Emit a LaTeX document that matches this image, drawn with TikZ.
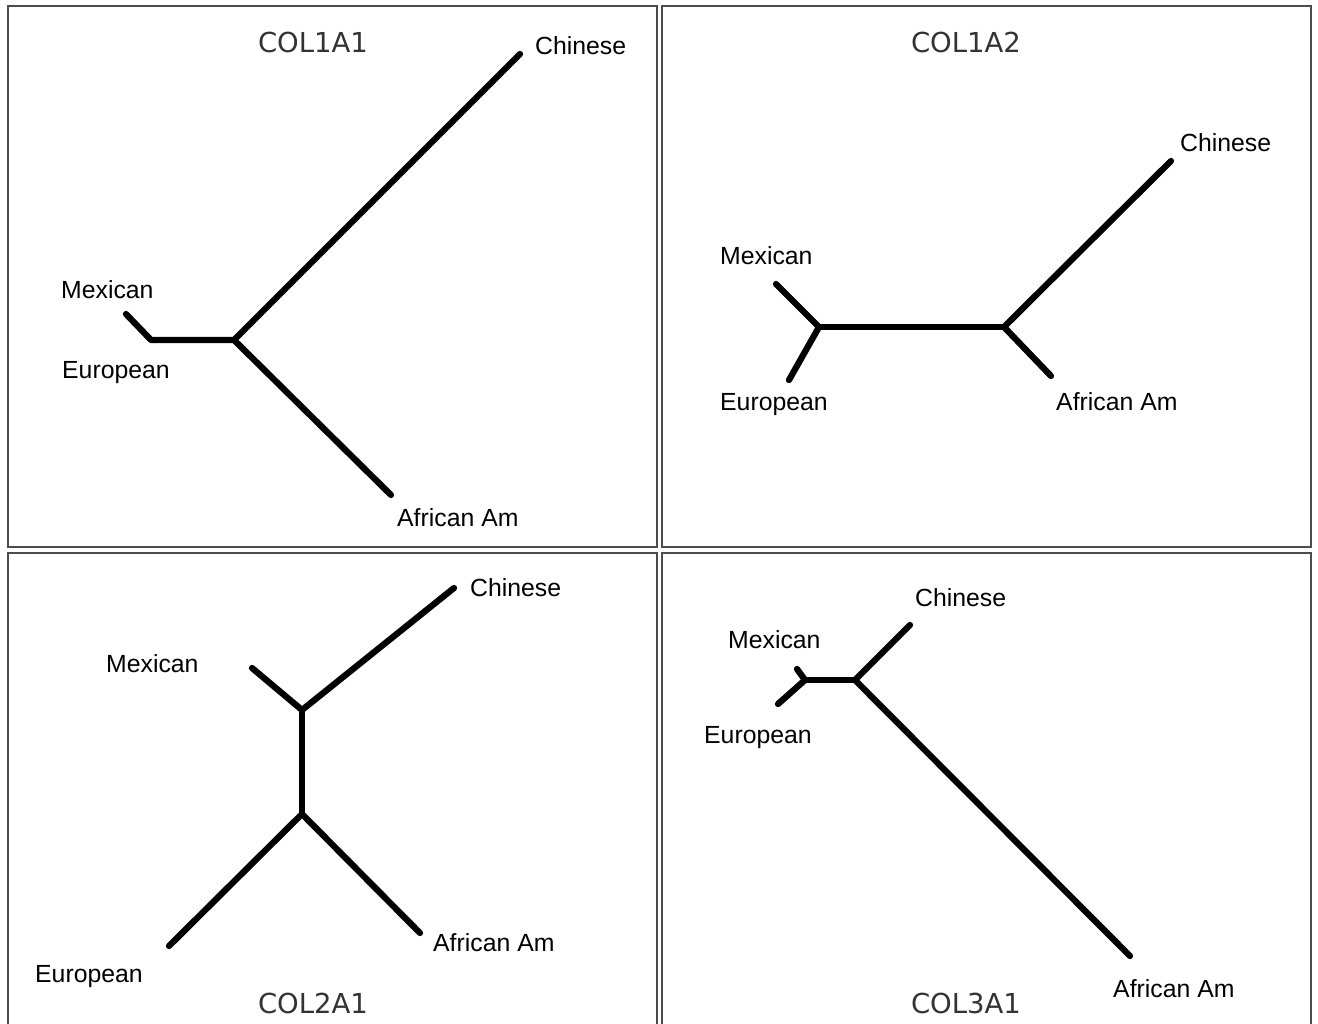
\documentclass[tikz,border=0pt]{standalone}
\usepackage{fontspec}
\usetikzlibrary{positioning}
\newfontfamily\taxonfont{Liberation Sans}
\newfontfamily\genefont{DejaVu Sans}

\begin{document}
\begin{tikzpicture}[
    x=1pt, y=-1pt,
    panel/.style={draw=black!70, line width=2pt},
    branch/.style={line width=6.3pt, line cap=round, line join=round},
    taxon/.style={anchor=base west, inner sep=0pt, font=\taxonfont\fontsize{24.8}{28}\selectfont},
    gene/.style={anchor=base, inner sep=0pt, text=black!80, font=\genefont\fontsize{27.5}{30}\selectfont}
]

% Canvas
\useasboundingbox (0,0) rectangle (1318,1024);
\clip (0,0) rectangle (1318,1024);

% Panels
\draw[panel] (8,6) rectangle (657,547);
\draw[panel] (662,6) rectangle (1311,547);
\draw[panel] (8,553) rectangle (657,1040);
\draw[panel] (662,553) rectangle (1311,1040);

% ---------- COL1A1 ----------
\node[gene] (t1) at (313,53) {COL1A1};
\coordinate (a1chi) at (520,54);
\coordinate (a1in) at (234,340);
\coordinate (a1afr) at (391,495);
\coordinate (a1me) at (151,340);
\coordinate (a1mex) at (126,314);
\draw[branch] (a1chi) -- (a1in) -- (a1afr);
\draw[branch] (a1in) -- (a1me) -- (a1mex);
\node[taxon] (l1chi) at (535,55) {Chinese};
\node[taxon] (l1mex) at (61,299) {Mexican};
\node[taxon] (l1eur) at (62,379) {European};
\node[taxon] (l1afr) at (397,526) {African Am};

% ---------- COL1A2 ----------
\node[gene] (t2) at (966,53) {COL1A2};
\coordinate (a2chi) at (1171,161);
\coordinate (a2in) at (1004,327);
\coordinate (a2afr) at (1051,376);
\coordinate (a2me) at (819,327);
\coordinate (a2mex) at (776,284);
\coordinate (a2eur) at (789,380);
\draw[branch] (a2chi) -- (a2in) -- (a2afr);
\draw[branch] (a2in) -- (a2me);
\draw[branch] (a2mex) -- (a2me) -- (a2eur);
\node[taxon] (l2chi) at (1180,152) {Chinese};
\node[taxon] (l2mex) at (720,265) {Mexican};
\node[taxon] (l2eur) at (720,410) {European};
\node[taxon] (l2afr) at (1056,410) {African Am};

% ---------- COL2A1 ----------
\node[gene] (t3) at (313,1013) {COL2A1};
\coordinate (a3chi) at (454,588);
\coordinate (a3up) at (302,710);
\coordinate (a3mex) at (252,668);
\coordinate (a3lo) at (302,814);
\coordinate (a3eur) at (169,946);
\coordinate (a3afr) at (420,933);
\draw[branch] (a3chi) -- (a3up) -- (a3mex);
\draw[branch] (a3up) -- (a3lo);
\draw[branch] (a3eur) -- (a3lo) -- (a3afr);
\node[taxon] (l3chi) at (470,596) {Chinese};
\node[taxon] (l3mex) at (106,672) {Mexican};
\node[taxon] (l3eur) at (35,982) {European};
\node[taxon] (l3afr) at (433,951) {African Am};

% ---------- COL3A1 ----------
\node[gene] (t4) at (966,1013) {COL3A1};
\coordinate (a4chi) at (910,625);
\coordinate (a4in) at (855,680);
\coordinate (a4afr) at (1130,956);
\coordinate (a4me) at (805,680);
\coordinate (a4mex) at (797,669);
\coordinate (a4eur) at (778,704);
\draw[branch] (a4chi) -- (a4in) -- (a4afr);
\draw[branch] (a4in) -- (a4me);
\draw[branch] (a4mex) -- (a4me) -- (a4eur);
\node[taxon] (l4chi) at (915,606) {Chinese};
\node[taxon] (l4mex) at (728,648) {Mexican};
\node[taxon] (l4eur) at (704,743) {European};
\node[taxon] (l4afr) at (1113,997) {African Am};

\end{tikzpicture}
\end{document}
